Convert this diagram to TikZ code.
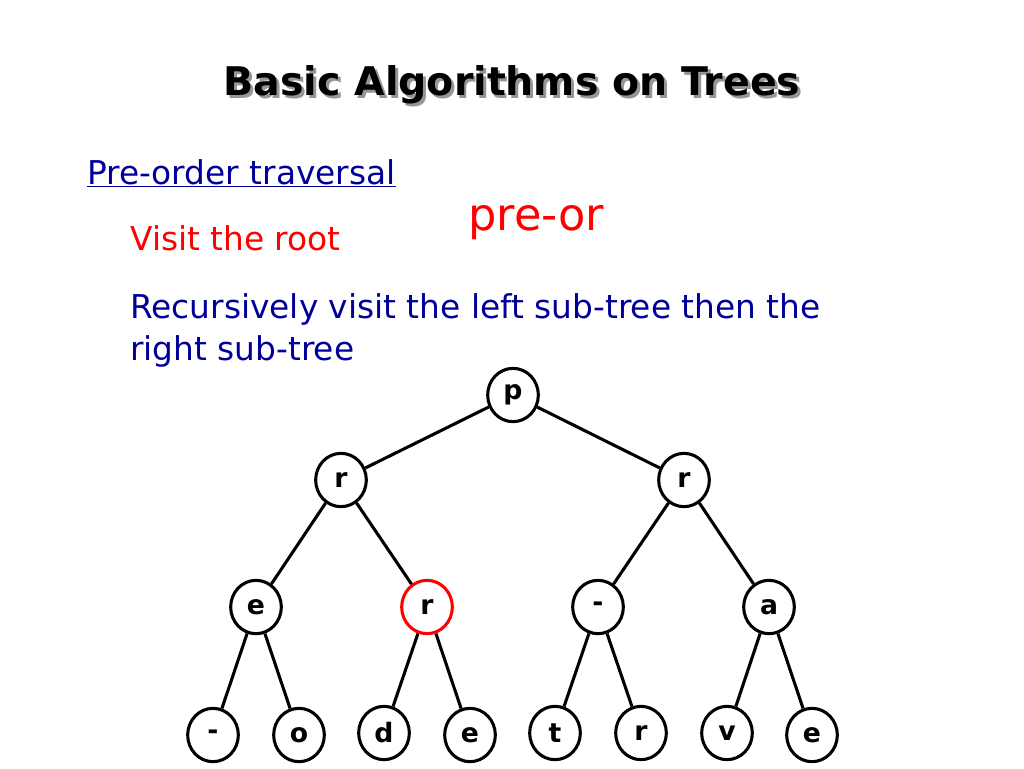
\documentclass[tikz,border=0pt]{standalone}
\usepackage{fontspec}
\setmainfont{DejaVu Sans}
\usetikzlibrary{shapes.geometric}
\definecolor{navy}{RGB}{0,0,153}
\definecolor{shadowgray}{RGB}{150,150,150}
\newcommand{\shadowtext}[1]{\makebox[0pt][l]{\hspace{2.2pt}\raisebox{-2.2pt}{\color{shadowgray}#1}}#1}
\tikzset{
  tnode/.style={draw, ellipse, line width=2.3pt, minimum width=38pt, minimum height=40pt,
    inner sep=0pt, fill=white, font=\fontsize{20}{22}\selectfont\bfseries},
  tedge/.style={line width=2.3pt},
  bodytext/.style={anchor=base west, inner sep=0pt, font=\fontsize{24.6}{28}\selectfont}
}
\begin{document}
\begin{tikzpicture}[x=0.75pt, y=-0.75pt]
        \useasboundingbox (0,0) rectangle (1024,768);
        % title with shadow
        \node[font=\fontsize{29.6}{34}\selectfont\bfseries] (title) at (512,86) {\shadowtext{Basic Algorithms on Trees}};
        % text
        \node[bodytext, color=navy] (pre) at (87,184) {\underline{Pre-order traversal}};
        \node[bodytext, color=red] (visit) at (130,250) {Visit the root};
        \node[bodytext, color=red, font=\fontsize{33.5}{38}\selectfont] (preor) at (468,230) {pre-or};
        \node[bodytext, color=navy] (rec1) at (130,318) {Recursively visit the left sub-tree then the};
        \node[bodytext, color=navy] (rec2) at (130,360) {right sub-tree};
        % tree
        \node[tnode] (p) at (513,395) {p};
        \node[tnode] (r1) at (341,480) {r};
        \node[tnode] (r2) at (684,480) {r};
        \node[tnode] (e1) at (256,607) {e};
        \node[tnode, draw=red] (r3) at (427,607) {r};
        \node[tnode] (m1) at (598,607) {-};
        \node[tnode] (a) at (769,607) {a};
        \node[tnode] (m2) at (213,735) {-};
        \node[tnode] (o) at (299,735) {o};
        \node[tnode] (d) at (384,733) {d};
        \node[tnode] (e2) at (470,735) {e};
        \node[tnode] (t) at (555,733) {t};
        \node[tnode] (r4) at (641,733) {r};
        \node[tnode] (v) at (727,733) {v};
        \node[tnode] (e3) at (812,735) {e};
        \draw[tedge] (p) -- (r1);
        \draw[tedge] (p) -- (r2);
        \draw[tedge] (r1) -- (e1);
        \draw[tedge] (r1) -- (r3);
        \draw[tedge] (r2) -- (m1);
        \draw[tedge] (r2) -- (a);
        \draw[tedge] (e1) -- (m2);
        \draw[tedge] (e1) -- (o);
        \draw[tedge] (r3) -- (d);
        \draw[tedge] (r3) -- (e2);
        \draw[tedge] (m1) -- (t);
        \draw[tedge] (m1) -- (r4);
        \draw[tedge] (a) -- (v);
        \draw[tedge] (a) -- (e3);
\end{tikzpicture}
\end{document}
